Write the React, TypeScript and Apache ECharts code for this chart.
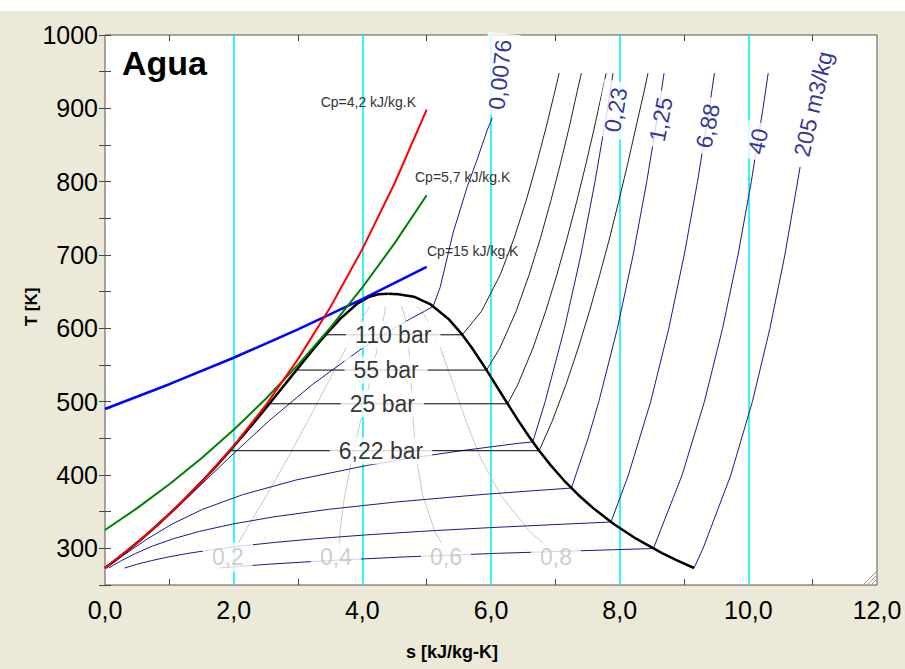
import React, { useEffect, useRef } from "react";
import * as echarts from "echarts";

// ---- saturation dome [s (kJ/kg-K), T (K)] ----
const satLiquid: number[][] = [
  [0, 273.16], [0.1511, 283.15], [0.2965, 293.15], [0.4368, 303.15], [0.5724, 313.15],
  [0.7038, 323.15], [0.8313, 333.15], [0.9551, 343.15], [1.0756, 353.15], [1.1929, 363.15],
  [1.3072, 373.15], [1.5279, 393.15], [1.7392, 413.15], [1.9426, 433.15], [2.1392, 453.15],
  [2.3305, 473.15], [2.5177, 493.15], [2.702, 513.15], [2.8849, 533.15], [3.0683, 553.15],
  [3.2548, 573.15], [3.448, 593.15], [3.6594, 613.15], [3.9147, 633.15], [4.1106, 643.15],
  [4.25, 646.5], [4.407, 647.1],
];
const satVapor: number[][] = [
  [4.407, 647.1], [4.56, 646.5], [4.8013, 643.15], [5.0526, 633.15], [5.3357, 613.15],
  [5.5362, 593.15], [5.7049, 573.15], [5.8571, 553.15], [6.0019, 533.15], [6.1437, 513.15],
  [6.2861, 493.15], [6.4322, 473.15], [6.585, 453.15], [6.7492, 433.15], [6.9294, 413.15],
  [7.1292, 393.15], [7.3541, 373.15], [7.6111, 353.15], [7.9081, 333.15], [8.2555, 313.15],
  [8.666, 293.15], [8.8998, 283.15], [9.1556, 273.16],
];

// ---- isochores (m3/kg) ----
const isochore0076: number[][] = [
  [0.0, 273.16], [0.708, 323.15], [1.331, 373.15], [1.925, 423.15], [2.54, 473.15],
  [3.22, 523.15], [4.004, 573.15], [4.359, 593.15], [4.75, 613.15], [4.966, 623.15],
  [5.1, 630], [5.21, 656], [5.41, 730], [5.63, 793], [5.78, 829], [5.94, 870], [6.02, 887],
];
const isochore023: number[][] = [
  [0.01, 273.16], [0.33, 293.15], [0.663, 313.15], [1.044, 333.15], [1.517, 353.15],
  [2.139, 373.15], [2.968, 393.15], [4.079, 413.15], [4.761, 423.15], [5.538, 433.15],
  [6.421, 443.15], [6.65, 445.2], [6.842, 500], [7.142, 600], [7.397, 700], [7.617, 800],
  [7.811, 900], [7.897, 948],
];
const isochore125: number[][] = [
  [0.0555, 273.16], [0.254, 283.15], [0.478, 293.15], [0.741, 303.15], [1.064, 313.15],
  [1.47, 323.15], [1.985, 333.15], [2.641, 343.15], [3.474, 353.15], [4.52, 363.15],
  [5.826, 373.15], [6.589, 378.15], [7.25, 382.2], [7.509, 450], [7.676, 500], [7.965, 600],
  [8.209, 700], [8.421, 800], [8.608, 900], [8.69, 948],
];
const isochore688: number[][] = [
  [0.3055, 273.16], [0.4946, 278.15], [0.7169, 283.15], [0.9799, 288.15], [1.2929, 293.15],
  [1.667, 298.15], [2.114, 303.15], [2.646, 308.15], [3.281, 313.15], [4.032, 318.15],
  [4.919, 323.15], [5.961, 328.15], [7.179, 333.15], [7.865, 335.9], [8.136, 400],
  [8.482, 500], [8.764, 600], [9.003, 700], [9.21, 800], [9.393, 900], [9.473, 948],
];
const isochore40: number[][] = [
  [1.777, 273.16], [2.51, 278.15], [3.44, 283.15], [4.617, 288.15], [6.089, 293.15],
  [7.923, 298.15], [8.524, 299.75], [8.971, 400], [9.317, 500], [9.6, 600], [9.839, 700],
  [10.046, 800], [10.228, 900], [10.309, 948],
];
const isochore205: number[][] = [
  [9.1556, 273.16], [9.297, 300], [9.728, 400], [10.063, 500], [10.336, 600], [10.568, 700],
  [10.805, 820],
];

// ---- isobars (superheated part) ----
const isobar110: number[][] = [
  [5.553, 591.2], [5.851, 623.15], [6.144, 673.15], [6.36, 723.15], [6.543, 773.15],
  [6.705, 823.15], [6.854, 873.15], [6.993, 923.15], [7.06, 948],
];
const isobar55: number[][] = [
  [5.931, 543.1], [6.138, 573.15], [6.391, 623.15], [6.593, 673.15], [6.769, 723.15],
  [6.928, 773.15], [7.075, 823.15], [7.213, 873.15], [7.34, 923.15], [7.405, 948],
];
const isobar25: number[][] = [
  [6.2575, 497.1], [6.416, 523.15], [6.653, 573.15], [6.85, 623.15], [7.024, 673.15],
  [7.184, 723.15], [7.333, 773.15], [7.473, 823.15], [7.605, 873.15], [7.73, 923.15], [7.79, 948],
];
const isobar622: number[][] = [
  [6.749, 433.15], [6.95, 473.15], [7.165, 523.15], [7.356, 573.15], [7.53, 623.15],
  [7.691, 673.15], [7.844, 723.15], [7.985, 773.15], [8.122, 823.15], [8.25, 873.15],
  [8.38, 923.15], [8.44, 948],
];
// isobars inside the dome: [s liquid, s vapour, Tsat]
const isobarDome: number[][] = [
  [3.4287, 5.553, 591.2],
  [2.976, 5.931, 543.1],
  [2.5546, 6.2575, 497.1],
  [1.9426, 6.749, 433.15],
];

// ---- quality lines ----
const quality02: number[][] = [
  [1.831, 273.16], [1.971, 293.15], [2.178, 323.15], [2.517, 373.15], [2.841, 423.15],
  [3.151, 473.15], [3.449, 523.15], [3.745, 573.15], [3.995, 613.15], [4.064, 623.15], [4.114, 630],
];
const quality04: number[][] = [
  [3.662, 273.16], [3.644, 293.15], [3.652, 323.15], [3.726, 373.15], [3.84, 423.15],
  [3.971, 473.15], [4.105, 523.15], [4.235, 573.15], [4.33, 613.15], [4.351, 623.15], [4.358, 630],
];
const quality06: number[][] = [
  [5.493, 273.16], [5.318, 293.15], [5.126, 323.15], [4.936, 373.15], [4.839, 423.15],
  [4.791, 473.15], [4.761, 523.15], [4.725, 573.15], [4.665, 613.15], [4.638, 623.15], [4.602, 630],
];
const quality08: number[][] = [
  [7.325, 273.16], [6.992, 293.15], [6.6, 323.15], [6.145, 373.15], [5.838, 423.15],
  [5.612, 473.15], [5.417, 523.15], [5.215, 573.15], [5.0, 613.15], [4.924, 623.15], [4.846, 630],
];

// ---- constant Cp lines ----
const cp42: number[][] = [
  [0, 273.15], [0.5, 307.7], [1, 346.6], [1.5, 390.4], [2, 439.7], [2.5, 495.3],
  [3, 558.0], [3.5, 628.5], [4, 708.0], [4.5, 797.5], [5, 898.3],
];
const cp57: number[][] = [
  [0, 325], [0.5, 354.8], [1, 387.3], [1.5, 422.9], [2, 461.6], [2.5, 503.9],
  [3, 550.2], [3.5, 600.6], [4, 655.7], [4.5, 715.8], [5, 781.4],
];
const cp15: number[][] = [
  [0, 490], [1, 523.8], [2, 559.9], [3, 598.5], [4, 639.7], [5, 683.8],
];

// ---- labels ----
const isochoreLabelNames = ["0,0076", "0,23", "1,25", "6,88", "40", "205 m3/kg"];
const isochoreLabelPos: number[][] = [
  [6.14, 946], [7.94, 898], [8.64, 885], [9.37, 876], [10.15, 855], [11.01, 906],
];
const isochoreLabelAngle = [84, 80, 79, 78, 78, 77];

const isobarLabelNames = ["110 bar", "55 bar", "25 bar", "6,22 bar"];
const isobarLabelPos: number[][] = [
  [4.48, 591.2], [4.37, 543.1], [4.31, 497.1], [4.29, 433.15],
];

const qualityLabelNames = ["0,2", "0,4", "0,6", "0,8"];
const qualityLabelPos: number[][] = [
  [1.91, 288], [3.59, 288], [5.3, 288], [7.01, 288],
];

const cpLabelNames = ["Cp=4,2 kJ/kg.K", "Cp=5,7 kJ/kg.K", "Cp=15 kJ/kg.K"];

const FONT = "'Liberation Sans', Arial, Helvetica, sans-serif";
const NAVY = "#1a1a8a";

function lineSeries(data: number[][], color: string, width: number, z = 2) {
  return {
    type: "line",
    data,
    showSymbol: false,
    symbol: "none",
    smooth: false,
    silent: true,
    z,
    lineStyle: { color, width },
    xAxisIndex: 0,
    yAxisIndex: 0,
  };
}

export default function App() {
  const ref = useRef<HTMLDivElement>(null);

  useEffect(() => {
    document.body.style.margin = "0";
    const chart = echarts.init(ref.current as HTMLDivElement, null, { renderer: "svg" });

    const series: any[] = [];
    // quality lines
    [quality02, quality04, quality06, quality08].forEach((d) =>
      series.push(lineSeries(d, "#c8c8c8", 1, 1))
    );
    // isochores
    [isochore0076, isochore023, isochore125, isochore688, isochore40, isochore205].forEach((d) =>
      series.push(lineSeries(d, NAVY, 1, 2))
    );
    // isobars
    [isobar110, isobar55, isobar25, isobar622].forEach((d) =>
      series.push(lineSeries(d, "#222222", 1, 2))
    );
    isobarDome.forEach((r) =>
      series.push(lineSeries([[r[0], r[2]], [r[1], r[2]]], "#000000", 1, 2))
    );
    // dome
    series.push(lineSeries(satLiquid, "#000000", 2.5, 3));
    series.push(lineSeries(satVapor, "#000000", 2.5, 3));
    // Cp lines
    series.push(lineSeries(cp15, "#0000ff", 2.5, 4));
    series.push(lineSeries(cp57, "#008000", 2, 4));
    series.push(lineSeries(cp42, "#ff0000", 2, 4));

    const labelBase = {
      type: "scatter",
      symbol: "circle",
      symbolSize: 1,
      silent: true,
      z: 10,
      itemStyle: { color: "rgba(0,0,0,0)" },
      xAxisIndex: 0,
      yAxisIndex: 0,
    };
    series.push({
      ...labelBase,
      data: isochoreLabelNames.map((n, i) => ({
        name: n,
        value: isochoreLabelPos[i],
        label: { rotate: isochoreLabelAngle[i] },
      })),
      label: {
        show: true,
        position: "inside",
        formatter: "{b}",
        color: "#000080",
        fontSize: 23,
        fontFamily: FONT,
        backgroundColor: "#ffffff",
        padding: [5, 6],
      },
    });
    series.push({
      ...labelBase,
      data: isobarLabelNames.map((n, i) => ({ name: n, value: isobarLabelPos[i] })),
      label: {
        show: true,
        position: "inside",
        formatter: "{b}",
        color: "#000000",
        fontSize: 23,
        fontFamily: FONT,
        backgroundColor: "#ffffff",
        padding: [2, 9],
      },
    });
    series.push({
      ...labelBase,
      data: qualityLabelNames.map((n, i) => ({ name: n, value: qualityLabelPos[i] })),
      label: {
        show: true,
        position: "inside",
        formatter: "{b}",
        color: "#c0c0c0",
        fontSize: 23,
        fontFamily: FONT,
        backgroundColor: "#ffffff",
        padding: [3, 9],
      },
    });

    const tickStyle = { color: "#444", width: 1 };
    const option: any = {
      animation: false,
      backgroundColor: "#ECE9D8",
      grid: {
        left: 105,
        top: 35,
        width: 772,
        height: 550,
        show: true,
        backgroundColor: "#ffffff",
        borderColor: "#555555",
        borderWidth: 1,
      },
      xAxis: [
        {
          type: "value",
          min: 0,
          max: 12,
          interval: 2,
          position: "bottom",
          axisLine: { show: false },
          axisTick: { show: false, inside: true },
          minorTick: { show: true, splitNumber: 2, length: 6, lineStyle: tickStyle },
          splitLine: {
            show: true,
            showMinLine: false,
            showMaxLine: false,
            lineStyle: { color: "#00f0ff", width: 1.6 },
          },
          axisLabel: {
            margin: 12,
            fontSize: 25,
            fontFamily: FONT,
            color: "#000",
            formatter: (v: number) => v.toFixed(1).replace(".", ","),
          },
        },
        {
          type: "value",
          min: 0,
          max: 12,
          interval: 2,
          position: "top",
          axisLine: { show: false },
          axisTick: { show: false, inside: true },
          minorTick: { show: true, splitNumber: 2, length: 6, lineStyle: tickStyle },
          splitLine: { show: false },
          axisLabel: { show: false },
        },
      ],
      yAxis: [
        {
          type: "value",
          min: 250,
          max: 1000,
          interval: 50,
          position: "left",
          axisLine: { show: false },
          axisTick: { show: true, inside: true, length: 6, lineStyle: tickStyle },
          splitLine: { show: false },
          axisLabel: {
            margin: 7,
            fontSize: 25,
            fontFamily: FONT,
            color: "#000",
            formatter: (v: number) => (v % 100 === 0 ? String(v) : ""),
          },
        },
        {
          type: "value",
          min: 250,
          max: 1000,
          interval: 50,
          position: "right",
          axisLine: { show: false },
          axisTick: { show: true, inside: true, length: 6, lineStyle: tickStyle },
          splitLine: { show: false },
          axisLabel: { show: false },
        },
      ],
      graphic: [
        { type: "rect", shape: { x: 0, y: 0, width: 905, height: 11 }, style: { fill: "#ffffff" }, silent: true },
        {
          type: "text", x: 122, y: 63, z: 20,
          style: { text: "Agua", fontSize: 34, fontWeight: "bold", fontFamily: FONT, fill: "#000", verticalAlign: "middle" },
        },
        {
          type: "text", x: 31, y: 307, rotation: Math.PI / 2, z: 20,
          style: { text: "T [K]", fontSize: 17, fontWeight: "bold", fontFamily: FONT, fill: "#000", align: "center", verticalAlign: "middle" },
        },
        {
          type: "text", x: 452, y: 652, z: 20,
          style: { text: "s [kJ/kg-K]", fontSize: 18, fontWeight: "bold", fontFamily: FONT, fill: "#000", align: "center", verticalAlign: "middle" },
        },
        {
          type: "text", x: 416, y: 102, z: 20,
          style: { text: cpLabelNames[0], fontSize: 14, fontFamily: FONT, fill: "#333", align: "right", verticalAlign: "middle" },
        },
        {
          type: "text", x: 415, y: 177, z: 20,
          style: { text: cpLabelNames[1], fontSize: 14, fontFamily: FONT, fill: "#333", align: "left", verticalAlign: "middle" },
        },
        {
          type: "text", x: 427, y: 251, z: 20,
          style: { text: cpLabelNames[2], fontSize: 14, fontFamily: FONT, fill: "#333", align: "left", verticalAlign: "middle" },
        },
        { type: "line", z: 20, shape: { x1: 864, y1: 584, x2: 876, y2: 572 }, style: { stroke: "#999", lineWidth: 1 } },
        { type: "line", z: 20, shape: { x1: 868, y1: 584, x2: 876, y2: 576 }, style: { stroke: "#999", lineWidth: 1 } },
        { type: "line", z: 20, shape: { x1: 872, y1: 584, x2: 876, y2: 580 }, style: { stroke: "#999", lineWidth: 1 } },
      ],
      series,
    };

    chart.setOption(option);
    return () => chart.dispose();
  }, []);

  return <div ref={ref} style={{ width: 905, height: 669 }} />;
}
